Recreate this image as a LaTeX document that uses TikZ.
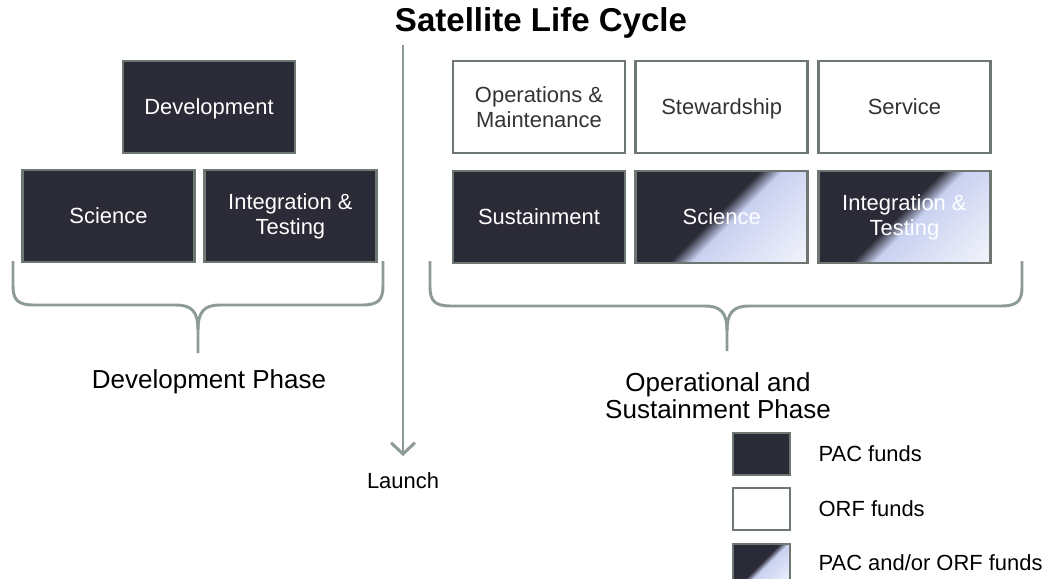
\documentclass[tikz,border=0pt]{standalone}
\usepackage{fontspec}
\setmainfont{Liberation Sans}
\usepackage{tikz}
\usetikzlibrary{positioning,arrows.meta}

\definecolor{pacdark}{HTML}{2B2A37}
\definecolor{fundedge}{HTML}{6E7772}
\definecolor{orflight}{HTML}{C9D1F1}
\definecolor{orfpale}{HTML}{F4F5FB}
\definecolor{cyclegray}{HTML}{8C9B94}
\definecolor{boxtext}{HTML}{333333}

\pgfdeclarehorizontalshading{pacorf}{100bp}{color(0bp)=(pacdark); color(48bp)=(pacdark); color(54bp)=(orflight); color(86bp)=(orfpale); color(100bp)=(orfpale)}

\begin{document}
\begin{tikzpicture}[
        x=0.025cm, y=-0.025cm,
        fund/.style={rectangle, draw=fundedge, line width=1.9pt, minimum width=4.3cm, minimum height=2.3cm, align=center, font=\fontsize{15.6}{17.8}\selectfont},
        oneline/.style={text height=11.2pt, text depth=0pt},
        pacbox/.style={fund, fill=pacdark, text=white},
        orfbox/.style={fund, fill=white, text=boxtext},
        mixbox/.style={fund, shade, shading=pacorf, shading angle=-45, text=white},
        legbox/.style={minimum width=1.425cm, minimum height=1.05cm},
        legtext/.style={inner sep=0pt, font=\fontsize{15.6}{18}\selectfont},
        phase/.style={align=center, font=\fontsize{18.5}{19.2}\selectfont},
        bracket/.style={cyclegray, line width=2.1pt},
        arrow/.style={cyclegray, line width=2.1pt, -{Straight Barb[length=8pt,width=17pt]}},
    ]
    \useasboundingbox (0,0) rectangle (1055,579);
    \clip (0,0) rectangle (1055,579);

    % Title
    \node[font=\bfseries\fontsize{23.5}{26}\selectfont] (title) at (541,23) {Satellite Life Cycle};

    % Development phase boxes
    \node[pacbox, oneline] (dev) at (209,107) {Development};
    \node[pacbox, oneline] (devsci) at (108.5,216) {Science};
    \node[pacbox, right=0.18cm of devsci] (devint) {Integration \&\\Testing};

    % Operational and sustainment phase boxes
    \node[orfbox] (ops) at (539,107) {Operations \&\\Maintenance};
    \node[orfbox, oneline, right=0.2cm of ops] (stew) {Stewardship};
    \node[orfbox, oneline, right=0.2cm of stew] (serv) {Service};
    \node[pacbox, oneline, below=0.38cm of ops] (sust) {Sustainment};
    \node[mixbox, oneline, below=0.38cm of stew] (opssci) {Science};
    \node[mixbox, below=0.38cm of serv] (opsint) {Integration \&\\Testing};

    % Braces
    \draw[bracket] (13,261) -- (13,286) .. controls (13,300) and (18,305) .. (34,305) -- (176,305) .. controls (192,305) and (198,312) .. (198,330) -- (198,353);
    \draw[bracket] (383,261) -- (383,286) .. controls (383,300) and (378,305) .. (362,305) -- (220,305) .. controls (204,305) and (198,312) .. (198,330);
    \draw[bracket] (430,261) -- (430,287) .. controls (430,301) and (435,306) .. (451,306) -- (705,306) .. controls (721,306) and (727,313) .. (727,331) -- (727,351);
    \draw[bracket] (1022,261) -- (1022,287) .. controls (1022,301) and (1017,306) .. (1001,306) -- (749,306) .. controls (733,306) and (727,313) .. (727,331);

    % Phase labels
    \node[phase] (devphase) at (209,382) {Development Phase};
    \node[phase] (opsphase) at (718,396) {Operational and\\Sustainment Phase};

    % Launch
    \node[legtext] (launch) at (403,481) {Launch};
    \coordinate (launchtop) at (403,45);
    \coordinate (launchend) at (403,456);
    \draw[arrow] (launchtop) -- (launchend);

    % Legend
    \node[pacbox, legbox] (legpac) at (761.5,454) {};
    \node[orfbox, legbox] (legorf) at (761.5,509) {};
    \node[mixbox, legbox] (legmix) at (761.5,565) {};
    \node[legtext, right=0.675cm of legpac] (legpactext) {PAC funds};
    \node[legtext, right=0.675cm of legorf] (legorftext) {ORF funds};
    \node[legtext, right=0.675cm of legmix, yshift=0.05cm] (legmixtext) {PAC and/or ORF funds};

\end{tikzpicture}
\end{document}
